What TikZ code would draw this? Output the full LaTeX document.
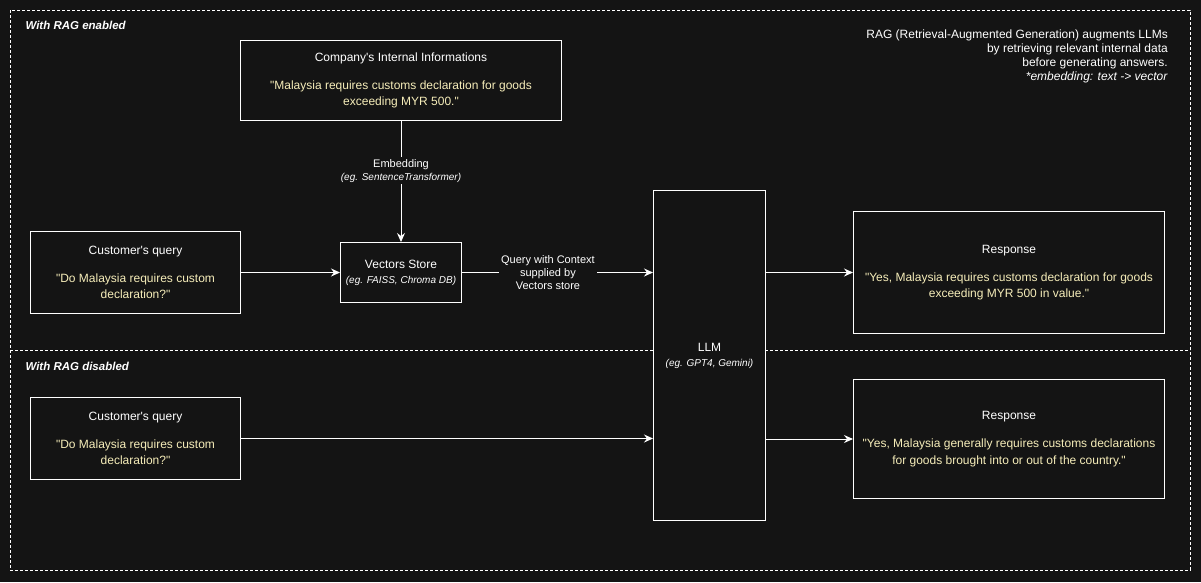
\documentclass[tikz,border=0pt]{standalone}
\usepackage{fontspec}
\setmainfont{Liberation Sans}[Ligatures=TeXOff]
\usetikzlibrary{arrows.meta}
\definecolor{bgdark}{HTML}{141414}
\definecolor{quoteyellow}{HTML}{F6EDB9}
\newcommand{\quoteline}[1]{\textcolor{quoteyellow}{#1}}
\newcommand{\egline}[1]{{\fontsize{10}{13}\selectfont\itshape #1}}

\begin{document}
\begin{tikzpicture}[x=1pt,y=-1pt,
		box/.style={draw=white, line width=1pt, fill=bgdark, text=white, align=center, inner sep=0pt, anchor=north west, font=\fontsize{12}{16.5}\selectfont},
		arrow/.style={draw=white, line width=1pt, -{Stealth[length=9pt,width=8pt,inset=3pt]}},
		edgelabel/.style={fill=bgdark, text=white, align=center, inner sep=2pt, font=\fontsize{11}{13}\selectfont},
		section/.style={draw=white, line width=0.8pt, dash pattern=on 3pt off 2pt}]
		%background
		\fill[bgdark] (0,0) rectangle (1201,582);
		\useasboundingbox (0,0) rectangle (1201,582);
		%sections
		\draw[section] (10,10) rectangle (1190,570);
		\draw[section] (10,350.5) -- (1190,350.5);
		\node[anchor=west, text=white, font=\fontsize{11.5}{13}\selectfont\bfseries\itshape] (enabled) at (22,25) {With RAG enabled};
		\node[anchor=west, text=white, font=\fontsize{11.5}{13}\selectfont\bfseries\itshape] (disabled) at (22,366) {With RAG disabled};
		%note
		\node[anchor=north east, text=white, align=right, inner sep=0pt, font=\fontsize{12}{13.8}\selectfont] (note) at (1168,30)
			{RAG (Retrieval-Augmented Generation) augments LLMs\\
			 by retrieving relevant internal data\\
			 before generating answers.\\
			 \textit{*embedding: text -> vector}};
		%boxes
		\node[box, minimum width=321pt, minimum height=80pt] (info) at (240,40)
			{Company's Internal Informations\\[11.5pt]
			 \quoteline{"Malaysia requires customs declaration for goods}\\
			 \quoteline{exceeding MYR 500."}};
		\node[box, minimum width=210pt, minimum height=82pt] (query) at (30,231)
			{Customer's query\\[11.5pt]
			 \quoteline{"Do Malaysia requires custom}\\
			 \quoteline{declaration?"}};
		\node[box, minimum width=121pt, minimum height=60pt, font=\fontsize{12}{15}\selectfont] (store) at (340,242)
			{Vectors Store\\ \egline{(eg. FAISS, Chroma DB)}};
		\node[box, minimum width=112pt, minimum height=330pt, font=\fontsize{12}{15}\selectfont] (llm) at (653,190)
			{LLM\\ \egline{(eg. GPT4, Gemini)}};
		\node[box, minimum width=311pt, minimum height=122pt] (answer) at (853,211)
			{Response\\[11.5pt]
			 \quoteline{"Yes, Malaysia requires customs declaration for goods}\\
			 \quoteline{exceeding MYR 500 in value."}};
		\node[box, minimum width=210pt, minimum height=82pt] (plainquery) at (30,397)
			{Customer's query\\[11.5pt]
			 \quoteline{"Do Malaysia requires custom}\\
			 \quoteline{declaration?"}};
		\node[box, minimum width=311pt, minimum height=119pt] (plainanswer) at (853,379)
			{Response\\[11.5pt]
			 \quoteline{"Yes, Malaysia generally requires customs declarations}\\
			 \quoteline{for goods brought into or out of the country."}};
		%connectors
		\draw[arrow] (info.south) -- (store.north)
			node[edgelabel, pos=0.41] (embedlabel) {Embedding\\ \egline{(eg. SentenceTransformer)}};
		\draw[arrow] (query.east) -- (store.west);
		\draw[arrow] (store.east) -- (store.east -| llm.west)
			node[edgelabel, pos=0.45] (contextlabel) {Query with Context\\ supplied by\\ Vectors store};
		\draw[arrow] (llm.east |- answer.west) -- (answer.west);
		\draw[arrow] (plainquery.east) -- (plainquery.east -| llm.west);
		\draw[arrow] (llm.east |- plainanswer.west) -- (plainanswer.west);
	\end{tikzpicture}
\end{document}
